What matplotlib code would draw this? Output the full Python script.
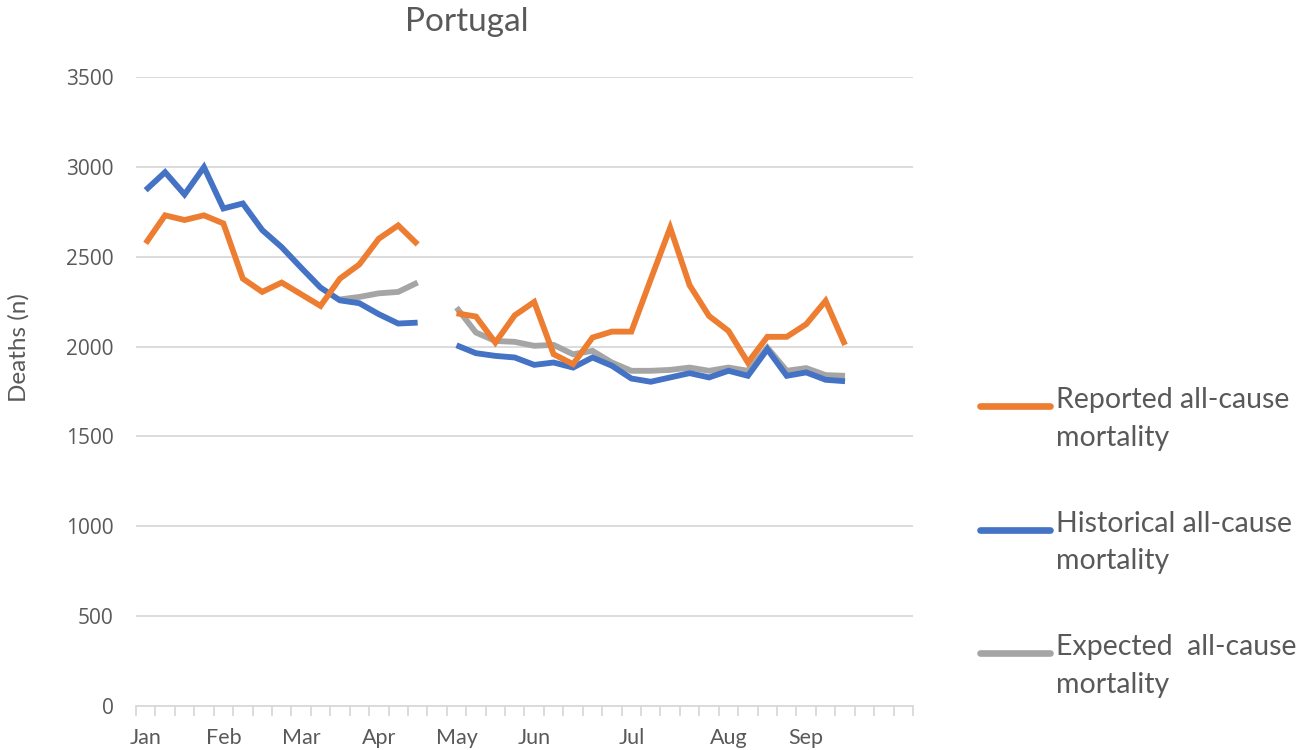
import numpy as np
import matplotlib
matplotlib.use("Agg")
import matplotlib.pyplot as plt
from matplotlib.lines import Line2D

# weekly categories, Jan .. end of Sep (40 slots); None = gap in the series
N_WEEKS = 40
MONTH_POS = [0, 4, 8, 12, 16, 20, 25, 30, 34]
MONTH_LABELS = ["Jan", "Feb", "Mar", "Apr", "May", "Jun", "Jul", "Aug", "Sep"]

reported = [2574, 2730, 2704, 2730, 2685, 2378, 2304, 2356, 2291, 2226,
            2378, 2457, 2600, 2674, 2568, None,
            2185, 2167, 2022, 2174, 2248, 1957, 1902, 2050, 2083, 2083,
            2374, 2661, 2341, 2170, 2087, 1911, 2054, 2054, 2124, 2254,
            2009]
historical = [2870, 2970, 2846, 2998, 2768, 2796, 2648, 2553, 2439, 2328,
              2257, 2241, 2180, 2128, 2133, None,
              2007, 1963, 1948, 1939, 1898, 1911, 1883, 1939, 1893, 1822,
              1804, 1828, 1852, 1828, 1865, 1837, 1985, 1837, 1856, 1815,
              1807]
expected = [None] * 10 + [2262, 2276, 2296, 2304, 2356, None,
            2217, 2078, 2031, 2026, 2004, 2009, 1957, 1976, 1911, 1865,
            1865, 1870, 1883, 1865, 1883, 1865, 1994, 1865, 1880, 1841,
            1837]

SERIES = [
    ("Reported all-cause\nmortality", reported, "#ED7D31", 3),
    ("Historical all-cause\nmortality", historical, "#4472C4", 2),
    ("Expected  all-cause\nmortality", expected, "#A5A5A5", 1),
]
TEXT = "#595959"


def as_array(values):
    """Pad to the full week count, with NaN for missing weeks."""
    arr = np.full(N_WEEKS, np.nan)
    vals = np.array([np.nan if v is None else v for v in values], dtype=float)
    arr[:len(vals)] = vals
    return arr


fig = plt.figure(figsize=(13.06, 7.5), dpi=100)
ax = fig.add_axes([0.1041, 0.0587, 0.595, 0.8387])

weeks = np.arange(N_WEEKS)
for label, values, colour, z in SERIES:
    ax.plot(weeks, as_array(values), color=colour, lw=4.2,
            solid_joinstyle="miter", solid_capstyle="butt", zorder=z)

ax.set_xlim(-0.5, N_WEEKS - 0.5)
ax.set_ylim(0, 3500)
ax.set_yticks(np.arange(0, 3501, 500))
ax.set_yticklabels([str(v) for v in range(0, 3501, 500)],
                   family="Open Sans", fontsize=15, color=TEXT)
ax.grid(axis="y", color="#D9D9D9", lw=1.3)
ax.set_axisbelow(True)
for side in ["top", "right", "left"]:
    ax.spines[side].set_visible(False)
ax.spines["bottom"].set_color("#D9D9D9")
ax.spines["bottom"].set_linewidth(1.3)

ax.set_xticks(MONTH_POS)
ax.set_xticklabels(MONTH_LABELS, family="Lato", fontsize=15.5, color=TEXT)
ax.set_xticks(np.arange(-0.5, N_WEEKS, 1), minor=True)
ax.tick_params(axis="x", which="major", length=0, pad=16)
ax.tick_params(axis="x", which="minor", length=7, color="#D9D9D9", width=1.3)
ax.tick_params(axis="y", length=0, pad=16)

fig.text(19 / 1306, 1 - 348 / 750, "Deaths (n)", color=TEXT, fontsize=17.5,
         family="Lato", rotation=90, ha="center", va="center")
fig.text(467 / 1306, 1 - 22 / 750, "Portugal", color=TEXT, fontsize=24,
         family="Lato", ha="center", va="center")

# legend on the right, handle level with the first text line
for i, (label, values, colour, z) in enumerate(SERIES):
    y = 1 - (406 + i * 123.5) / 750
    fig.add_artist(Line2D([980 / 1306, 1050 / 1306], [y, y], color=colour,
                          lw=4.8, solid_capstyle="round"))
    fig.text(1056 / 1306, y + 19 / 750, label, color=TEXT, fontsize=20.5,
             family="Lato", va="top", ha="left", linespacing=1.55)

fig.savefig("out.png", dpi=100)
